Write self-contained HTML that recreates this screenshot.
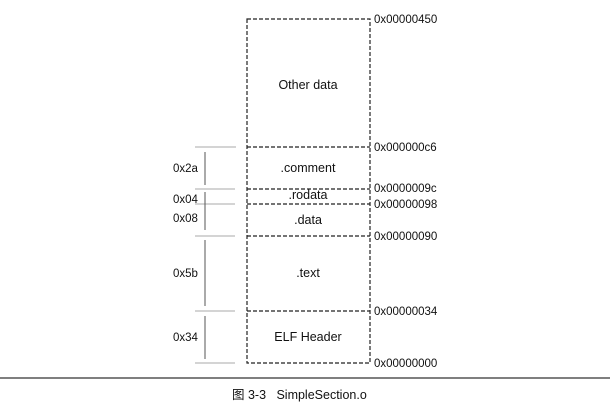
<!DOCTYPE html>
<html><head><style>body{margin:0;background:#fff}svg{display:block}</style></head><body>
<svg width="610" height="407" viewBox="0 0 610 407" font-family="Liberation Sans, Noto Sans CJK SC, sans-serif" fill="#111">
<g stroke="#222" stroke-width="1.2" stroke-dasharray="4,2" fill="none">
<rect x="247" y="19" width="123" height="344"/>
<line x1="247" y1="147" x2="370" y2="147"/>
<line x1="247" y1="189" x2="370" y2="189"/>
<line x1="247" y1="204" x2="370" y2="204"/>
<line x1="247" y1="236" x2="370" y2="236"/>
<line x1="247" y1="311" x2="370" y2="311"/>
</g>
<g stroke="#aaa" stroke-width="1">
<line x1="195" y1="147" x2="236" y2="147"/>
<line x1="195" y1="189" x2="235" y2="189"/>
<line x1="195" y1="204" x2="235" y2="204"/>
<line x1="195" y1="236" x2="235" y2="236"/>
<line x1="195" y1="311" x2="235" y2="311"/>
<line x1="195" y1="363" x2="235" y2="363"/>
</g>
<g stroke="#555" stroke-width="1">
<line x1="205" y1="152" x2="205" y2="185"/>
<line x1="205" y1="192" x2="205" y2="230"/>
<line x1="205" y1="240" x2="205" y2="306"/>
<line x1="205" y1="316" x2="205" y2="359"/>
</g>
<g font-size="12.5" text-anchor="middle">
<text x="308" y="89">Other data</text>
<text x="308" y="172">.comment</text>
<text x="308" y="199">.rodata</text>
<text x="308" y="224">.data</text>
<text x="308" y="277">.text</text>
<text x="308" y="341">ELF Header</text>
</g>
<g font-size="11.5">
<text x="173" y="172">0x2a</text>
<text x="173" y="203">0x04</text>
<text x="173" y="222">0x08</text>
<text x="173" y="277">0x5b</text>
<text x="173" y="341">0x34</text>
<text x="374" y="23">0x00000450</text>
<text x="374" y="151">0x000000c6</text>
<text x="374" y="192">0x0000009c</text>
<text x="374" y="208">0x00000098</text>
<text x="374" y="240">0x00000090</text>
<text x="374" y="315">0x00000034</text>
<text x="374" y="367">0x00000000</text>
</g>
<line x1="0" y1="378" x2="610" y2="378" stroke="#333" stroke-width="1.3"/>
<text x="232" y="399" font-size="12.5">图 3-3&#160;&#160;&#160;SimpleSection.o</text>
</svg>
</body></html>
